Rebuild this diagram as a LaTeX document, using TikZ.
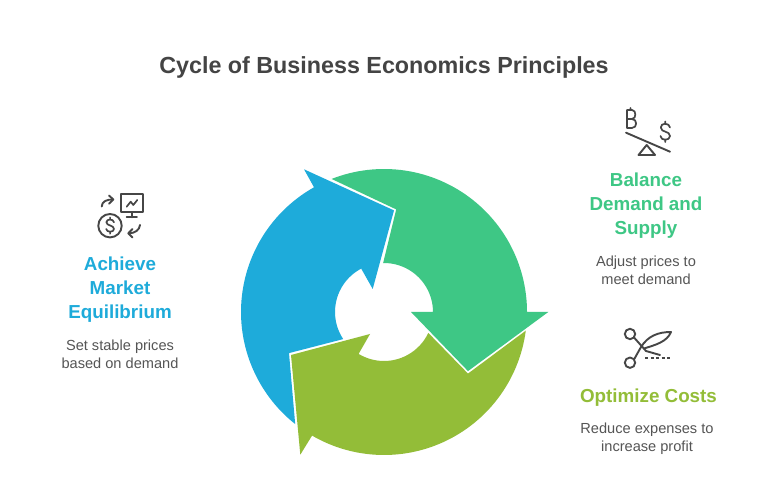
\documentclass[tikz,border=0pt]{standalone}
\usepackage{fontspec}
\setmainfont{Liberation Sans}
\definecolor{cgreen}{RGB}{62,199,133}
\definecolor{cblue}{RGB}{30,171,218}
\definecolor{colive}{RGB}{147,189,56}
\definecolor{ctitle}{RGB}{68,68,68}
\definecolor{cbody}{RGB}{85,85,85}
\definecolor{cicon}{RGB}{70,70,70}
\tikzset{
  titletext/.style={font=\fontsize{23.3}{28}\selectfont\bfseries,text=ctitle},
  headtext/.style={font=\fontsize{18.8}{24}\selectfont\bfseries,align=center},
  bodytext/.style={font=\fontsize{14.6}{18.3}\selectfont,text=cbody,align=center},
  iconline/.style={draw=cicon,line width=1.9pt,line cap=round,line join=round},
}
\begin{document}
\begin{tikzpicture}[x=1pt,y=1pt]
\useasboundingbox (0,0) rectangle (768,492);
\fill[white] (0,0) rectangle (768,492);
\coordinate (c) at (384,180);
% blue arrow
\fill[cblue] ([shift={(231.6:143pt)}]c) arc[start angle=231.6,end angle=119.3,radius=143pt]
  -- (304,322.7) -- (394,281.6) -- (372.7,203) -- ([shift={(117.7:49pt)}]c)
  arc[start angle=117.7,end angle=213.6,radius=49pt] -- (289,138.9) -- cycle;
% olive arrow
\fill[colive] ([shift={(-7.5:143pt)}]c) arc[start angle=-7.5,end angle=-120.2,radius=143pt]
  -- (300.3,37.3) -- (291,137) -- (370,158) -- ([shift={(-121.2:49pt)}]c)
  arc[start angle=-121.2,end angle=-25.3,radius=49pt] -- (468,118.4) -- cycle;
% green arrow
\fill[cgreen] ([shift={(111.5:143pt)}]c) arc[start angle=111.5,end angle=0,radius=143pt]
  -- (548.3,180) -- (468,120.9) -- (411,180) -- ([shift={(0:49pt)}]c)
  arc[start angle=0,end angle=91,radius=49pt] -- (396.2,282.6) -- cycle;
% texts
\node[titletext] (title) at (384,424.5) {Cycle of Business Economics Principles};
\node[headtext,text=cgreen] (balance) at (646,286.5) {Balance\\Demand and\\Supply};
\node[bodytext] (balancebody) at (646,222) {Adjust prices to\\meet demand};
\node[headtext,text=colive] (optimize) at (648.5,94.5) {Optimize Costs};
\node[bodytext] (optimizebody) at (647,53.5) {Reduce expenses to\\increase profit};
\node[headtext,text=cblue] (achieve) at (120,202.5) {Achieve\\Market\\Equilibrium};
\node[bodytext] (achievebody) at (120,137.5) {Set stable prices\\based on demand};
% icons in pixel coordinates
\begin{scope}[shift={(0,492)},y=-1pt]
  % balance
  \draw[iconline] (626,132.7) -- (670,151.7);
  \draw[iconline] (638.5,155) -- (655,155) -- (646.7,145) -- cycle;
  \draw[iconline,line width=1.7pt] (627,110) -- (627,128) -- (632,128)
     .. controls (637.5,128) and (637.5,119) .. (632,119) -- (627,119)
     (632,119) .. controls (636.5,119) and (636.5,110) .. (632,110) -- (627,110)
     (630.5,108) -- (630.5,110);
  \draw[iconline,line width=1.7pt] (670,127.5) .. controls (669.5,122.5) and (660.5,122.5) .. (660.8,127.5)
     .. controls (661,133) and (670,130.5) .. (670,136)
     .. controls (670,141) and (660.5,141) .. (660.5,136)
     (665.3,121.5) -- (665.3,124) (665.3,139.5) -- (665.3,142);
  % scissors
  \draw[iconline] (630,334) circle[radius=5.2pt] (630,362.7) circle[radius=5.2pt];
  \draw[iconline] (634,337.5) -- (646,351) -- (660,355);
  \draw[iconline] (634.3,359) -- (641,347);
  \draw[iconline] (641,347) .. controls (648,336) and (658,332) .. (671,332)
     .. controls (667,342) and (655,345) .. (644,348.5);
  \draw[iconline,line cap=butt,dash pattern=on 3pt off 2.5pt] (645,358.3) -- (672,358.3);
  % market
  \draw[iconline] (120.7,194.3) rectangle (143,212.3);
  \draw[iconline] (131.8,212.3) -- (131.8,217.3) (126.7,217.3) -- (136.9,217.3);
  \draw[iconline,line width=1.7pt] (126.7,206.7) -- (130.7,201.7) -- (133.3,205) -- (137.3,200);
  \draw[iconline] (110,225.7) circle[radius=11.7pt];
  \draw[iconline,line width=1.7pt] (114,222.3) .. controls (113.5,218.6) and (106.3,218.6) .. (106.4,222.3)
     .. controls (106.5,226) and (114,225) .. (114,229)
     .. controls (114,232.6) and (106.5,232.6) .. (106.2,229)
     (110.1,217.5) -- (110.1,219.5) (110.1,231.7) -- (110.1,233.8);
  \draw[iconline] (101.7,206.5) .. controls (102,201) and (107,199.5) .. (113,199.5);
  \draw[iconline] (109,195.5) -- (113.3,199.5) -- (109,203.7);
  \draw[iconline] (140,225) .. controls (139.5,230) and (135,233.3) .. (128.5,233.3);
  \draw[iconline] (132.5,229) -- (128.3,233.3) -- (132.5,237.5);
\end{scope}
\end{tikzpicture}
\end{document}
